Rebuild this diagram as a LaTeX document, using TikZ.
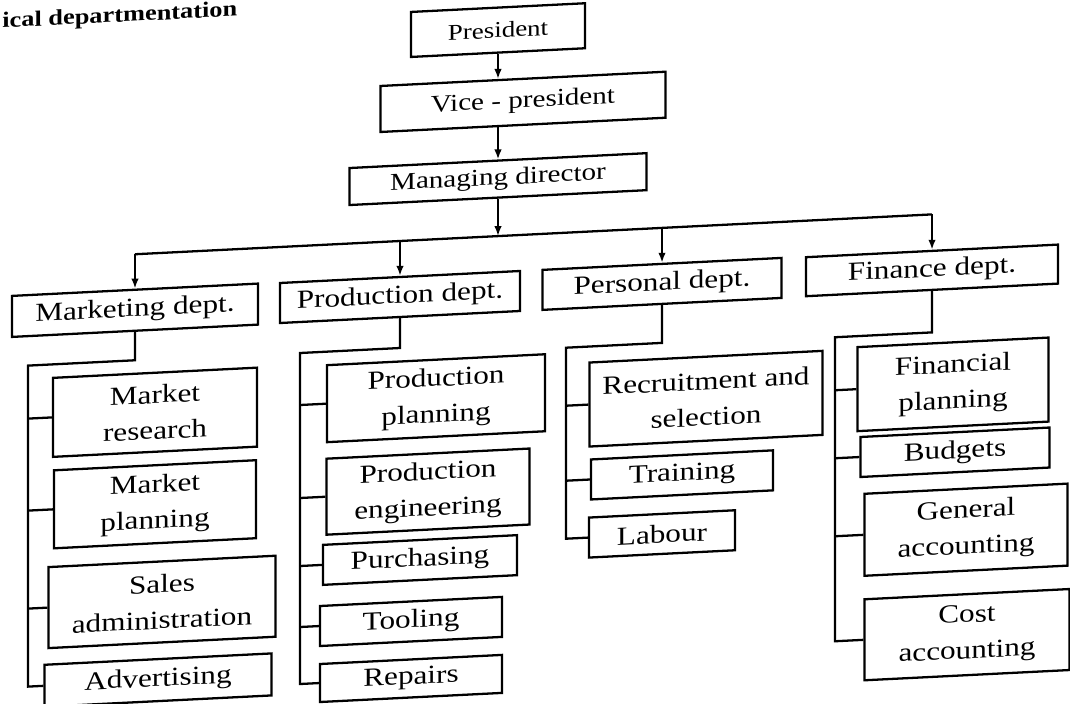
\documentclass[tikz,border=0pt]{standalone}
\usepackage{fontspec}
\setmainfont[FakeStretch=1.2]{Liberation Serif}
\usepackage{tikz}
\usetikzlibrary{arrows.meta, calc}
\newcommand{\chartfont}{\fontsize{14.8}{20.5}\selectfont}
\newcommand{\headfont}{\fontsize{13.8}{16}\selectfont}
\tikzset{
  post/.style 2 args={draw, line width=1.3pt, inner sep=0pt, align=center,
    font=\chartfont, minimum width=#1*0.02cm, minimum height=#2*0.02cm},
  link/.style={line width=1.3pt},
  down/.style={link, -{Latex[length=2mm, width=1.5mm]}}
}
\begin{document}
\begin{tikzpicture}[x=0.02cm, y=-0.02cm]
  \useasboundingbox (0,0) rectangle (1070,703);
  \begin{scope}[yslant=0.05, transform shape]
    % page text
    \node[anchor=base west, inner sep=0pt, font=\fontsize{12.5}{15}\selectfont\bfseries] (pagetxt) at (2,28) {ical departmentation};
    % top line
    \node[post={174}{45}, font=\fontsize{12.8}{15}\selectfont] (pres) at (498,55) {President};
    \node[post={285}{46}, font=\headfont] (vice) at (523,128) {Vice - president};
    \node[post={297}{37}, font=\headfont] (md) at (498,204) {Managing director};
    \coordinate (bus) at (498,261);
    \draw[down] (pres) -- (vice.north -| pres);
    \draw[down] (vice.south -| pres) -- (md);
    \draw[down] (md) -- (bus);
    % departments
    \node[post={246}{41}] (mkt) at (135,317) {Marketing dept.};
    \node[post={240}{40}] (prod) at (400,317) {Production dept.};
    \node[post={239}{40}] (pers) at (662,317) {Personal dept.};
    \node[post={252}{39}] (fin) at (932,317) {Finance dept.};
    \draw[link] (mkt |- bus) -- (fin |- bus);
    \foreach \d in {mkt, prod, pers, fin}
      \draw[down] (\d |- bus) -- (\d);
    % marketing
    \node[post={204}{79}] (mres) at (155,420) {Market\\research};
    \node[post={202}{78}] (mplan) at (155,512) {Market\\planning};
    \node[post={227}{81}] (sales) at (162,610) {Sales\\administration};
    \node[post={227}{42}] (adv) at (158,688) {Advertising};
    \coordinate (mkt-top) at (28,367);
    \draw[link] (mkt) |- (mkt-top) |- (adv);
    \foreach \b in {mres, mplan, sales}
      \draw[link] (mkt-top |- \b.west) -- (\b);
    % production
    \node[post={218}{77}] (pplan) at (436,420) {Production\\planning};
    \node[post={203}{76}] (peng) at (428,513) {Production\\engineering};
    \node[post={194}{40}] (purch) at (420,581) {Purchasing};
    \node[post={182}{40}] (tool) at (411,642) {Tooling};
    \node[post={182}{38}] (rep) at (411,699) {Repairs};
    \coordinate (prod-top) at (300,368);
    \draw[link] (prod) |- (prod-top) |- (rep);
    \foreach \b in {pplan, peng, purch, tool}
      \draw[link] (prod-top |- \b.west) -- (\b);
    % personal
    \node[post={233}{84}] (recr) at (706,434) {Recruitment and\\selection};
    \node[post={182}{40}] (train) at (682,509) {Training};
    \node[post={146}{40}] (lab) at (662,567) {Labour};
    \coordinate (pers-top) at (566,376);
    \draw[link] (pers) |- (pers-top) |- (lab);
    \foreach \b in {recr, train}
      \draw[link] (pers-top |- \b.west) -- (\b);
    % finance
    \node[post={191}{84}] (fplan) at (953,432) {Financial\\planning};
    \node[post={189}{40}] (budg) at (955,500) {Budgets};
    \node[post={203}{82}] (gacc) at (966,578) {General\\accounting};
    \node[post={205}{81}] (cacc) at (967,683) {Cost\\accounting};
    \coordinate (fin-top) at (835,379);
    \draw[link] (fin) |- (fin-top) |- (cacc);
    \foreach \b in {fplan, budg, gacc}
      \draw[link] (fin-top |- \b.west) -- (\b);
  \end{scope}
\end{tikzpicture}
\end{document}
